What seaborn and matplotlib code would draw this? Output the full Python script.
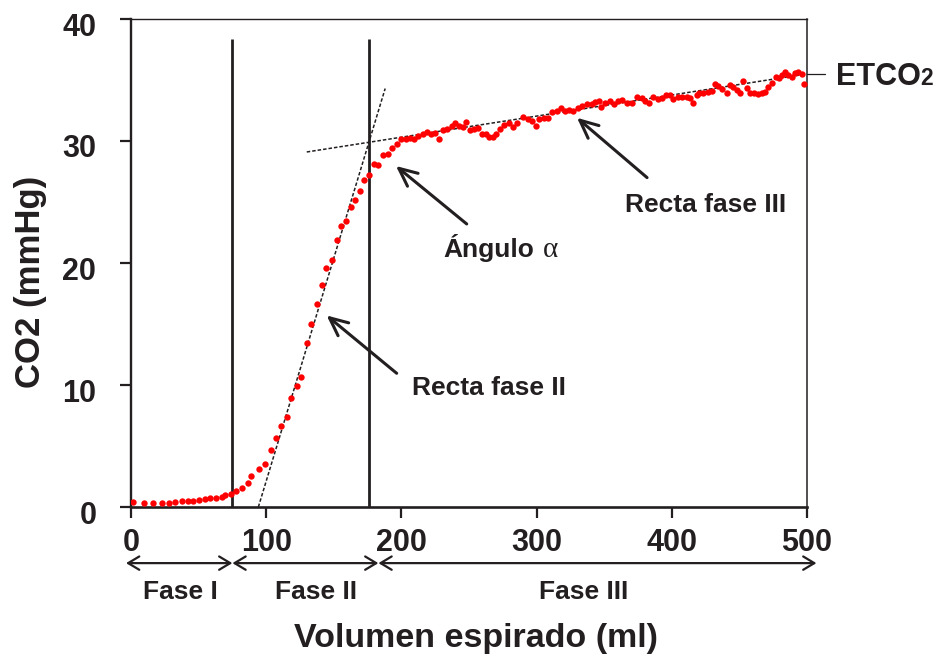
import matplotlib
matplotlib.use("Agg")
import matplotlib.pyplot as plt
from matplotlib.transforms import ScaledTranslation
import seaborn as sns
import pandas as pd

# ---------------- data ----------------
vol_phase_I_II = [1.2, 9.9, 16.5, 22.9, 28.4, 32.5, 37.5, 42.2, 46.1, 50.5, 54.7, 58.4,
                  62.6, 67.1, 69.8, 74.0, 77.7, 81.9, 86.3, 89.0, 94.9, 99.3, 103.3,
                  107.2, 110.9, 115.1, 118.3, 122.5, 125.7, 130.2, 133.4, 137.6, 141.0,
                  144.5, 148.4, 152.1, 155.6, 159.0, 162.5, 165.9, 169.4, 172.6, 176.0,
                  179.5, 182.9, 186.4, 189.9, 193.3]
co2_phase_I_II = [0.43, 0.35, 0.35, 0.35, 0.35, 0.38, 0.46, 0.52, 0.46, 0.57, 0.66, 0.71,
                  0.71, 0.79, 0.98, 1.09, 1.31, 1.58, 1.99, 2.54, 3.09, 3.52, 4.70,
                  5.63, 6.61, 7.40, 8.91, 9.95, 10.63, 13.47, 14.97, 16.64, 18.17,
                  19.62, 20.25, 21.91, 23.03, 23.44, 24.57, 25.19, 25.93, 26.78, 27.24,
                  28.09, 28.00, 28.83, 28.91, 29.45]

vol_phase_III = [196.6, 199.7, 203.2, 206.4, 209.3, 212.5, 215.7, 218.9, 221.9, 225.1,
                 228.0, 231.0, 234.0, 237.2, 239.9, 242.8, 245.3, 247.8, 250.7, 253.9,
                 256.4, 259.8, 262.3, 265.0, 267.5, 270.0, 272.9, 276.1, 279.6, 282.8,
                 285.7, 290.2, 293.4, 296.4, 299.6, 302.0, 305.7, 308.7, 311.6, 314.9,
                 317.8, 321.0, 324.0, 327.1, 330.4, 333.8, 337.0, 340.7, 343.2, 346.2,
                 347.6, 350.6, 354.3, 357.5, 360.0, 363.4, 366.6, 370.3, 374.0, 377.7,
                 380.2, 383.4, 386.3, 389.6, 392.5, 395.7, 398.7, 401.1, 404.4, 407.8,
                 411.1, 413.5, 416.0, 418.4, 420.1, 423.3, 427.0, 429.5, 431.9, 434.4,
                 437.3, 440.6, 443.0, 445.5, 448.0, 450.4, 452.9, 455.4, 457.8, 461.0,
                 464.0, 466.4, 468.9, 471.3, 474.3, 476.8, 479.3, 481.7, 483.7, 486.2,
                 488.7, 491.1, 493.6, 496.1, 498.0]
co2_phase_III = [29.74, 30.14, 30.14, 30.27, 30.14, 30.41, 30.55, 30.76, 30.55, 30.68,
                 30.14, 30.90, 30.98, 31.25, 31.45, 31.23, 31.17, 31.58, 30.90, 30.98,
                 31.04, 30.57, 30.57, 30.35, 30.35, 30.57, 30.98, 31.31, 31.45, 31.17,
                 31.50, 31.99, 31.78, 31.66, 31.25, 31.78, 31.86, 31.91, 32.40, 32.46,
                 32.68, 32.46, 32.54, 32.46, 32.68, 32.87, 33.01, 33.03, 33.22, 33.28,
                 32.81, 33.14, 33.30, 33.03, 33.30, 33.36, 33.14, 33.14, 33.58, 33.50,
                 33.30, 33.09, 33.58, 33.42, 33.50, 33.77, 33.77, 33.42, 33.64, 33.58,
                 33.58, 33.50, 33.14, 33.77, 33.91, 33.96, 33.99, 34.12, 34.67, 34.51,
                 34.24, 33.96, 34.59, 34.45, 34.18, 33.96, 34.92, 34.32, 33.96, 33.91,
                 33.85, 33.91, 34.04, 34.40, 34.78, 35.27, 35.14, 35.41, 35.68, 35.41,
                 35.27, 35.60, 35.68, 35.49, 34.67]

phase_bounds = [75, 176]          # vertical separators (ml)
bar_top = 38.4
fit_II_x = [94.2, 188.0]          # regression line, phase II
fit_II_y = [0.0, 34.3]
fit_III_x = [130.0, 500.0]        # regression line, phase III
fit_III_y = [29.1, 35.5]
etco2_value = 35.5

x_ticks = [0, 100, 200, 300, 400, 500]
y_ticks = [0, 10, 20, 30, 40]
x_label = "Volumen espirado (ml)"
y_label = "CO2 (mmHg)"

phase_names = ["Fase I", "Fase II", "Fase III"]
phase_label_x = [36.6, 136.8, 334.7]
phase_arrow_spans = [(-3.7, 75.0), (75.0, 183.0), (183.0, 507.0)]

# (text, text x, text y, arrow tail, arrow head)
callouts = [
    ("Recta fase III", 365.4, 24.2, (381.7, 27.0), (329.9, 31.9)),
    ("Recta fase II", 207.6, 9.18, (196.5, 10.96), (144.7, 15.7)),
]
angle_text = ("Ángulo", 231.0, 20.5, (248.3, 23.2), (196.0, 27.95))

# ---------------- style ----------------
sns.set_style("ticks")
plt.rcParams["font.family"] = ["Liberation Sans", "DejaVu Sans"]
plt.rcParams["font.weight"] = "bold"
ink = "#231f20"

fig = plt.figure(figsize=(9.52, 6.57), dpi=100)
ax = fig.add_axes([131 / 952, 1 - 507 / 657, 676 / 952, 488 / 657])

df = pd.DataFrame({"vol": vol_phase_I_II + vol_phase_III,
                   "co2": co2_phase_I_II + co2_phase_III})
sns.scatterplot(data=df, x="vol", y="co2", color="#ff0000", s=21,
                linewidth=0, ax=ax, zorder=4)

ax.vlines(phase_bounds, 0, bar_top, colors=ink, lw=2.0, zorder=3)
ax.plot(fit_II_x, fit_II_y, color=ink, lw=1.1, ls=(0, (2.3, 1.3)), zorder=2)
ax.plot(fit_III_x, fit_III_y, color=ink, lw=1.1, ls=(0, (2.3, 1.3)), zorder=2)

ax.set_xlim(0, 500)
ax.set_ylim(0, 40)
ax.set_xticks(x_ticks)
ax.set_yticks(y_ticks)
ax.tick_params(axis="x", length=8, width=1.6, pad=7, labelsize=22,
               colors=ink, direction="out")
ax.tick_params(axis="y", length=8, width=1.6, pad=17, labelsize=22,
               colors=ink, direction="out")
for lab in ax.get_xticklabels() + ax.get_yticklabels():
    lab.set_fontweight("bold")
for lab in ax.get_yticklabels():
    lab.set_transform(lab.get_transform() +
                      ScaledTranslation(0, -5 / 100, fig.dpi_scale_trans))

for side, w in [("left", 1.7), ("bottom", 1.9), ("top", 1.0), ("right", 1.1)]:
    ax.spines[side].set_visible(True)
    ax.spines[side].set_linewidth(w)
    ax.spines[side].set_color(ink)

ax.set_xlabel(x_label, fontsize=24.5, fontweight="bold", color=ink)
ax.set_ylabel(y_label, fontsize=25, fontweight="bold", color=ink)
ax.xaxis.set_label_coords(0.511, -0.2377)
ax.yaxis.set_label_coords(-0.124, 0.461)

# ETCO2 marker
ax.plot([500, 513.3], [etco2_value, etco2_value], color=ink, lw=0.9,
        clip_on=False)
ax.text(521.4, 34.59, "ETCO", fontsize=22, fontweight="bold", color=ink,
        va="baseline", ha="left")
ax.text(583.6, 34.59, "2", fontsize=16.5, fontweight="bold", color=ink,
        va="baseline", ha="left")

# phase arrows under the axis
for (x0, x1) in phase_arrow_spans:
    ax.annotate("", xy=(x1, -4.6), xytext=(x0, -4.6), xycoords="data",
                arrowprops=dict(arrowstyle="<->,head_length=0.5,head_width=0.3",
                                lw=1.6, color=ink, shrinkA=0, shrinkB=0,
                                mutation_scale=16),
                annotation_clip=False)
for name, xc in zip(phase_names, phase_label_x):
    ax.text(xc, -6.93, name, fontsize=19, fontweight="bold", color=ink,
            ha="center", va="center", clip_on=False)

# callouts
arrow_kw = dict(arrowstyle="->,head_length=0.65,head_width=0.3", lw=2.2,
                color=ink, shrinkA=0, shrinkB=0, mutation_scale=20)
for txt, tx, ty, tail, head in callouts:
    ax.text(tx, ty, txt, fontsize=19, fontweight="bold", color=ink,
            ha="left", va="baseline")
    ax.annotate("", xy=head, xytext=tail, arrowprops=arrow_kw)

txt, tx, ty, tail, head = angle_text
ax.text(tx, ty, txt, fontsize=19, fontweight="bold", color=ink,
        ha="left", va="baseline")
ax.text(304.5, ty, "α", fontsize=21, family=["Liberation Serif", "DejaVu Serif"],
        fontweight="normal", color=ink, ha="left", va="baseline")
ax.annotate("", xy=head, xytext=tail, arrowprops=arrow_kw)

fig.savefig("out.png", dpi=100)
